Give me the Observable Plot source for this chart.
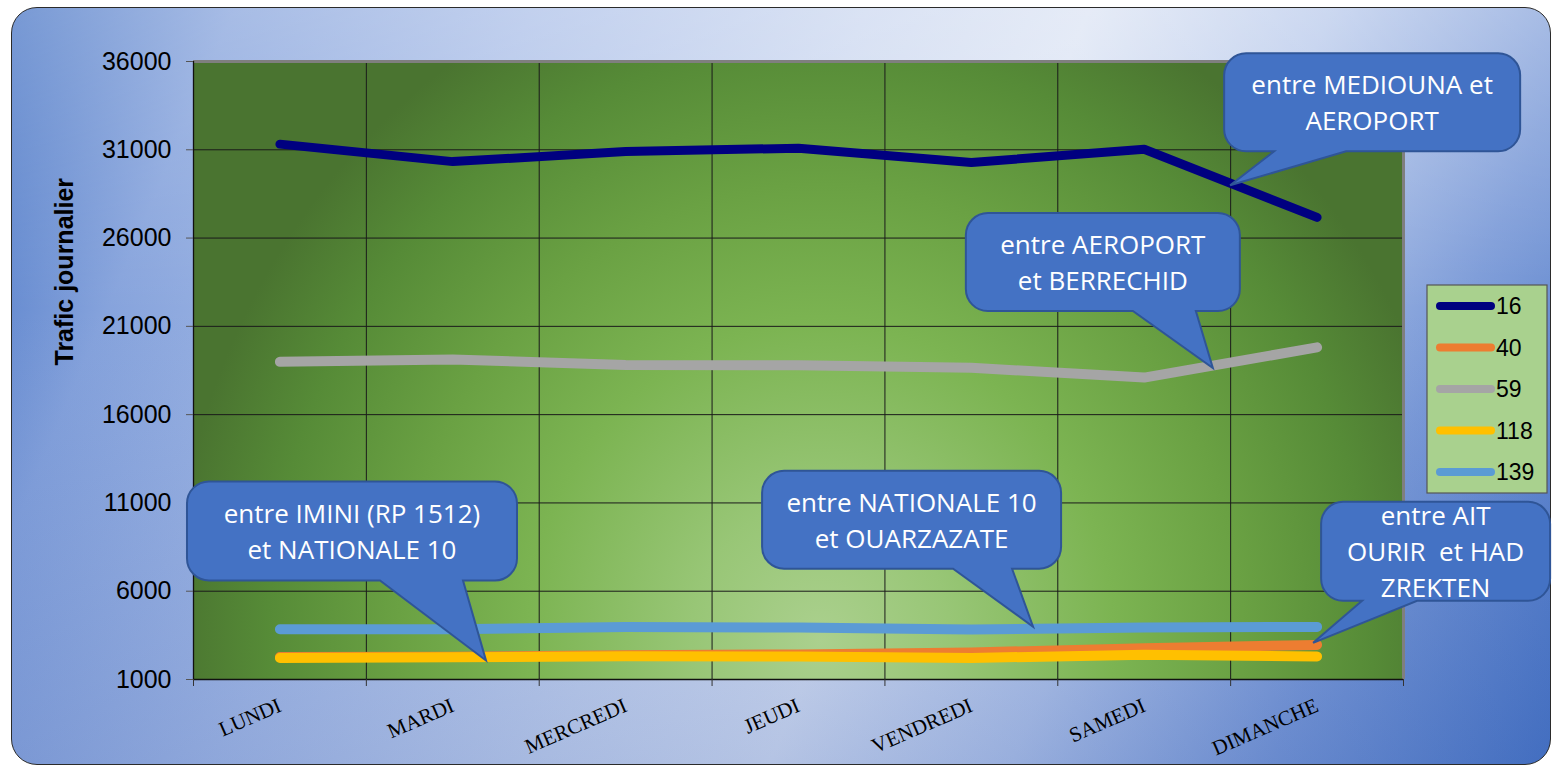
<!DOCTYPE html>
<html>
<head>
<meta charset="utf-8">
<script src="https://cdn.jsdelivr.net/npm/d3@7"></script>
<script src="https://cdn.jsdelivr.net/npm/@observablehq/plot@0.6"></script>
<style>
html, body { margin: 0; padding: 0; background: #fff; overflow: hidden; }
#page { position: relative; width: 1552px; height: 766px; overflow: hidden; }
#bg {
  position: absolute; left: 11px; top: 7px; width: 1540px; height: 758px;
  box-sizing: border-box; border: 1.3px solid #2b2b2b; border-radius: 26px;
  background:
    linear-gradient(to bottom, rgba(255,255,255,0.28) 0%, rgba(255,255,255,0) 40%, rgba(40,80,170,0.22) 100%),
    linear-gradient(113deg, #4472C4 0%, #86A3DC 12%, #ABBFE8 28%, #CCD8F0 46%, #DCE4F4 58%, #B8C9EB 71%, #7C9BD8 85%, #4A76C6 100%);
}
#chart { position: absolute; left: 0; top: 0; }
#defs { position: absolute; width: 0; height: 0; }
</style>
</head>
<body>
<svg id="defs" width="0" height="0">
  <defs>
    <radialGradient id="plotBg" gradientUnits="userSpaceOnUse" cx="820" cy="640" r="650"
      gradientTransform="translate(820 640) scale(1 1.08) translate(-820 -640)">
      <stop offset="0" stop-color="#ABD08E"/>
      <stop offset="0.2" stop-color="#98C676"/>
      <stop offset="0.45" stop-color="#7CB452"/>
      <stop offset="0.65" stop-color="#6AA143"/>
      <stop offset="0.85" stop-color="#568B37"/>
      <stop offset="1" stop-color="#4A7430"/>
    </radialGradient>
  </defs>
</svg>
<div id="page"><div id="bg"></div><div id="chart"></div></div>
<script>
// ---- data ----
const days = ["LUNDI", "MARDI", "MERCREDI", "JEUDI", "VENDREDI", "SAMEDI", "DIMANCHE"];
const seriesNames = ["16", "40", "59", "118", "139"];
const s16  = [31320, 30330, 30900, 31090, 30280, 31030, 27170];
const s40  = [2270, 2290, 2370, 2420, 2530, 2770, 2960];
const s59  = [18990, 19120, 18815, 18800, 18650, 18100, 19810];
const s118 = [2220, 2260, 2320, 2300, 2220, 2400, 2300];
const s139 = [3850, 3850, 3980, 3940, 3830, 3940, 3980];
const yTicks = [1000, 6000, 11000, 16000, 21000, 26000, 31000, 36000];
const yTitle = "Trafic journalier";

const calloutTexts = [
  ["entre MEDIOUNA et", "AEROPORT"],
  ["entre AEROPORT", "et BERRECHID"],
  ["entre IMINI (RP 1512)", "et NATIONALE 10"],
  ["entre NATIONALE 10", "et OUARZAZATE"],
  ["entre AIT", "OURIR  et HAD", "ZREKTEN"]
];
// pointer tip, in data space: [day position, traffic]
const calloutTips = [[5.5, 28960], [5.4, 18610], [1.195, 2050], [4.36, 3960], [5.98, 3050]];

// ---- styles / layout ----
const seriesColors = ["#000080", "#ED7D31", "#A5A5A5", "#FFC000", "#5B9BD5"];
const seriesWidths = [9, 10, 10, 10, 10];
// box geometry relative to tip: [dx, dy, w, h, base1, base2]
const calloutBoxes = [
  [-6, -132, 296, 98, 50, 122],
  [-247, -155, 274, 98, 167, 230],
  [-299, -179, 330, 99, 193, 276],
  [-271, -156, 299, 98, 191, 250],
  [8, -141, 229, 99, 41, 96]
];

const valuesBySeries = [s16, s40, s59, s118, s139];
const rows = seriesNames.flatMap((name, k) =>
  days.map((day, i) => ({series: name, day, i, value: valuesBySeries[k][i]})));
const dayIdx = days.map((d, i) => i);
const edges = d3.range(-0.5, days.length, 1);
const innerEdges = edges.slice(1, -1);

const plot = Plot.plot({
  width: 1552,
  height: 766,
  marginLeft: 193,
  marginRight: 149,
  marginTop: 61,
  marginBottom: 87,
  style: {background: "transparent", overflow: "visible", fontFamily: "Liberation Sans, Arial, sans-serif"},
  x: {type: "linear", domain: [-0.5, days.length - 0.5]},
  y: {domain: [1000, 36000]},
  marks: [
    Plot.frame({fill: "#70AD47", stroke: null}),
    Plot.gridY(yTicks.slice(1, -1), {stroke: "#1a1a1a", strokeOpacity: 1, strokeWidth: 1}),
    Plot.gridX(innerEdges, {stroke: "#1a1a1a", strokeOpacity: 1, strokeWidth: 1}),
    Plot.ruleY([36000], {stroke: "#7f7f7f", strokeWidth: 3}),
    Plot.ruleX([days.length - 0.5], {stroke: "#7f7f7f", strokeWidth: 3}),
    Plot.ruleY([1000], {stroke: "#111", strokeWidth: 1.3}),
    Plot.ruleX([-0.5], {stroke: "#111", strokeWidth: 1.3}),
    Plot.axisY({ticks: yTicks, tickSize: 7, tickPadding: 15, tickFormat: d => String(d), fontSize: 25, stroke: "#555", fill: "#000", label: null}),
    Plot.axisX({ticks: edges, tickSize: 7, tickFormat: () => "", stroke: "#333", label: null}),
    Plot.axisX({ticks: dayIdx, tickSize: 0, tickPadding: 25, tickFormat: i => days[i], tickRotate: -23.5,
      fontSize: 21, fontFamily: "Liberation Serif, Times New Roman, serif", fill: "#000", label: null}),
    Plot.text([yTitle], {frameAnchor: "left", dx: -129, dy: -5, rotate: -90, fontSize: 25, fontWeight: "bold", fill: "#000"}),
    ...seriesNames.map((name, k) => Plot.line(rows.filter(d => d.series === name), {
      x: "i", y: "value", stroke: seriesColors[k], strokeWidth: seriesWidths[k],
      strokeLinecap: "round", strokeLinejoin: "round"
    }))
  ]
});
document.getElementById("chart").appendChild(plot);

// plot area gradient
const fr = plot.querySelector('[aria-label="frame"]');
const frRect = fr && (fr.tagName.toLowerCase() === "rect" ? fr : fr.querySelector("rect"));
if (frRect) frRect.setAttribute("fill", "url(#plotBg)");

const xs = plot.scale("x"), ys = plot.scale("y");
const svg = d3.select(plot);

// callouts
function bubble(x0, y0, w, h, r, b1, b2, tx, ty) {
  const x1 = x0 + w, y1 = y0 + h;
  return `M${x0 + r},${y0}H${x1 - r}A${r},${r} 0 0 1 ${x1},${y0 + r}V${y1 - r}A${r},${r} 0 0 1 ${x1 - r},${y1}` +
    `H${b2}L${tx},${ty}L${b1},${y1}H${x0 + r}A${r},${r} 0 0 1 ${x0},${y1 - r}V${y0 + r}A${r},${r} 0 0 1 ${x0 + r},${y0}Z`;
}
const cg = svg.append("g").attr("class", "callouts");
calloutTexts.forEach((lines, k) => {
  const tx = xs.apply(calloutTips[k][0]), ty = ys.apply(calloutTips[k][1]);
  const [dx, dy, w, h, b1, b2] = calloutBoxes[k];
  const x0 = tx + dx, y0 = ty + dy;
  cg.append("path")
    .attr("d", bubble(x0, y0, w, h, 22, x0 + b1, x0 + b2, tx, ty))
    .attr("fill", "#4472C4").attr("stroke", "#2F5597").attr("stroke-width", 2);
  const cx = x0 + w / 2, cy = y0 + h / 2 + 10;
  lines.forEach((t, j) => {
    cg.append("text")
      .attr("x", cx).attr("y", cy + (j - (lines.length - 1) / 2) * 36)
      .attr("text-anchor", "middle").attr("fill", "#fff")
      .style("font-family", "'Open Sans', sans-serif").style("font-size", "26px")
      .style("white-space", "pre").text(t);
  });
});

// legend
const lg = svg.append("g").attr("class", "legend");
lg.append("rect").attr("x", 1427).attr("y", 285).attr("width", 120).attr("height", 208)
  .attr("fill", "#A9D18E").attr("stroke", "#555").attr("stroke-width", 1.2);
seriesNames.forEach((name, k) => {
  const y = 306 + k * 41.5;
  lg.append("line").attr("x1", 1440).attr("x2", 1491).attr("y1", y).attr("y2", y)
    .attr("stroke", seriesColors[k]).attr("stroke-width", 8).attr("stroke-linecap", "round");
  lg.append("text").attr("x", 1496).attr("y", y).attr("dy", "0.36em")
    .attr("text-anchor", "start")
    .style("font-family", "'Liberation Sans', Arial, sans-serif").style("font-size", "23px")
    .attr("fill", "#000").text(name);
});
</script>
</body>
</html>
